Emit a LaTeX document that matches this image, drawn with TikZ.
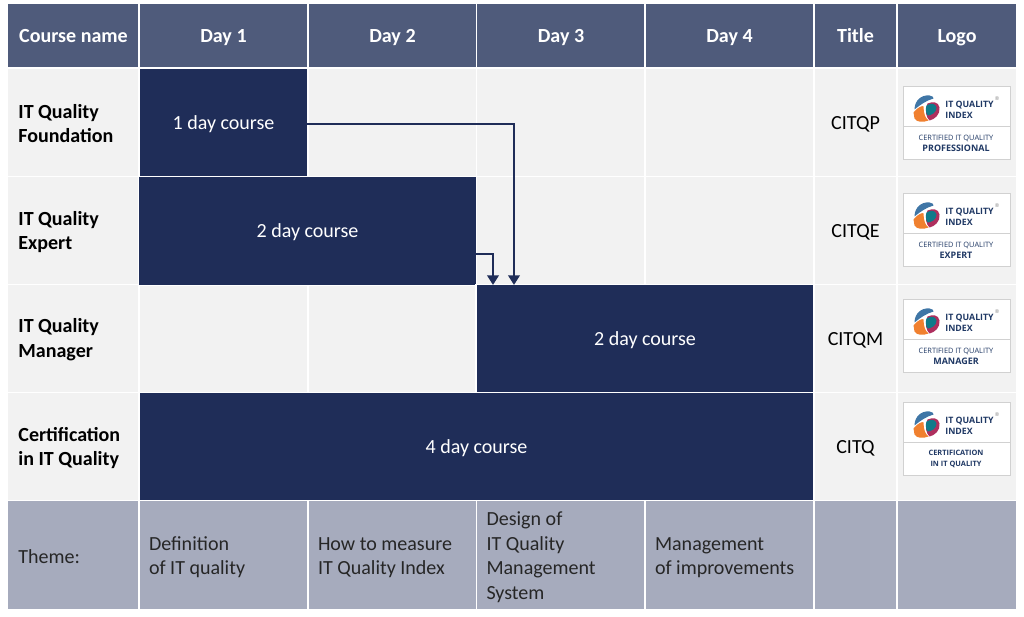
\documentclass[tikz,border=0pt]{standalone}
\usepackage{fontspec}
\setmainfont{Carlito}
\newfontfamily\logofont{Open Sans}
\usetikzlibrary{arrows.meta,positioning,calc}
\definecolor{headblue}{HTML}{4F5B7B}
\definecolor{paleg}{HTML}{F2F2F2}
\definecolor{navy}{HTML}{1F2D58}
\definecolor{themeg}{HTML}{A6ABBD}
\definecolor{logoink}{HTML}{1F3864}
\definecolor{swirlo}{HTML}{F0802F}
\definecolor{swirlb}{HTML}{3F76A6}
\definecolor{swirlr}{HTML}{AE2F5E}
\definecolor{swirlt}{HTML}{0F7A8A}
\tikzstyle{cell}=[rectangle,draw=white,line width=0.8pt,inner sep=0pt,minimum height=2.17cm,font=\fontsize{11.4}{14}\selectfont]
\tikzstyle{oneline}=[text height=9.4pt,text depth=1.6pt]
\tikzstyle{head}=[cell,text height=10pt,text depth=1.6pt,fill=headblue,text=white,minimum height=1.3cm,font=\fontsize{11.4}{14}\selectfont\bfseries]
\tikzstyle{empty}=[cell,fill=paleg]
\tikzstyle{titlecell}=[empty,oneline,minimum width=1.66cm]
\tikzstyle{course}=[cell,oneline,fill=navy,text=white]
\tikzstyle{rowname}=[cell,fill=paleg,align=flush left,text width=2.204cm,inner xsep=0.218cm,font=\fontsize{11.4}{14}\selectfont\bfseries,execute at begin node={\rule{0pt}{9pt}}]
\tikzstyle{theme}=[cell,fill=themeg,align=flush left,text width=2.98cm,inner xsep=0.2cm,text=black!85,execute at begin node={\rule{0pt}{10.3pt}}]
\tikzstyle{flow}=[draw=navy,line width=1.6pt,-{Triangle[width=6.5pt,length=5.5pt]}]
\tikzset{
pics/qualitylogo/.style n args={3}{code={
\node[rectangle,draw=black!18,fill=white,line width=0.5pt,minimum width=2.14cm,minimum height=0.8cm,inner sep=0pt] (-top) at (0.5,-19.5) {};
\node[rectangle,draw=black!18,fill=white,line width=0.5pt,minimum width=2.14cm,minimum height=0.66cm,inner sep=0pt] (-bot) at (0.5,16.5) {};
% swirl
\begin{scope}[shift={(-29.5,-17.5)}]
\fill[swirlo] (-13,4) .. controls (-8,-2) and (-4,-3) .. (-3,-2) .. controls (-3,5) and (-1,10) .. (2,12) .. controls (-3,14) and (-10,14) .. (-12,10) -- cycle;
\fill[swirlb] (-12,1) .. controls (-12,-8) and (-5,-14) .. (3,-13) .. controls (6,-13) and (7,-11) .. (7,-10) .. controls (0,-8) and (-6,-4) .. (-12,1) -- cycle;
\fill[swirlr] (1,-5) .. controls (6,-7) and (12,-7) .. (13,-1) .. controls (14,6) and (8,11) .. (3,12) .. controls (0,9) and (-2,4) .. (1,-5) -- cycle;
\fill[swirlt] (0,-3) .. controls (5,-6) and (9,-5) .. (10,-1) .. controls (10,4) and (5,7) .. (1,7) .. controls (-1,4) and (-1,0) .. (0,-3) -- cycle;
\end{scope}
\node[font=\logofont\fontsize{5}{6.2}\selectfont\bfseries,text=logoink,align=flush left,anchor=west,inner sep=0pt] (-name) at (-11,-16.5) {IT QUALITY\\INDEX};
\node[font=\logofont\fontsize{3}{3}\selectfont,text=black!45,inner sep=0pt] (-reg) at (41,-27) {\textregistered};
\node[text=logoink,align=center,inner sep=0pt,font=\logofont\fontsize{4.2}{6.2}\selectfont] (-lab) at (0,17) {#1\\{\fontsize{#3}{6.2}\selectfont\textbf{#2}}};
}}}
\begin{document}
\begin{tikzpicture}[x=0.02cm,y=-0.02cm]
\useasboundingbox (0,0) rectangle (1024,617);
%header row
\node[head,minimum width=2.64cm] (hname) at (73.5,35.5) {Course name};
\node[head,minimum width=3.38cm] (hday1) at (223.5,35.5) {Day 1};
\node[head,minimum width=3.38cm] (hday2) at (392.5,35.5) {Day 2};
\node[head,minimum width=3.38cm] (hday3) at (561,35.5) {Day 3};
\node[head,minimum width=3.38cm] (hday4) at (729.5,35.5) {Day 4};
\node[head,minimum width=1.66cm] (htitle) at (855.5,35.5) {Title};
\node[head,minimum width=2.4cm] (hlogo) at (957,35.5) {Logo};
%row names
\node[rowname] (rfound) at (73.5,122.5) {IT Quality\\Foundation};
\node[rowname] (rexpert) at (73.5,231) {IT Quality\\Expert};
\node[rowname] (rmanager) at (73.5,339) {IT Quality\\Manager};
\node[rowname] (rcert) at (73.5,447) {Certification\\in IT Quality};
%empty cells
\node[empty,minimum width=3.38cm] (e12) at (392.5,122.5) {};
\node[empty,minimum width=3.38cm] (e13) at (561,122.5) {};
\node[empty,minimum width=3.38cm] (e14) at (729.5,122.5) {};
\node[empty,minimum width=3.38cm] (e23) at (561,231) {};
\node[empty,minimum width=3.38cm] (e24) at (729.5,231) {};
\node[empty,minimum width=3.38cm] (e31) at (223.5,339) {};
\node[empty,minimum width=3.38cm] (e32) at (392.5,339) {};
%course bars
\node[course,minimum width=3.38cm] (found) at (223.5,122.5) {1 day course};
\node[course,minimum width=6.76cm] (expert) at (307.5,231) {2 day course};
\node[course,minimum width=6.76cm] (manager) at (645,339) {2 day course};
\node[course,minimum width=13.5cm] (cert) at (476.5,447) {4 day course};
%titles
\node[titlecell] (t1) at (855.5,122.5) {CITQP};
\node[titlecell] (t2) at (855.5,231) {CITQE};
\node[titlecell] (t3) at (855.5,339) {CITQM};
\node[titlecell] (t4) at (855.5,447) {CITQ};
%logo cells
\node[empty,minimum width=2.4cm] (l1) at (957,122.5) {};
\node[empty,minimum width=2.4cm] (l2) at (957,231) {};
\node[empty,minimum width=2.4cm] (l3) at (957,339) {};
\node[empty,minimum width=2.4cm] (l4) at (957,447) {};
\pic (lg1) at (956,126) {qualitylogo={CERTIFIED IT QUALITY}{PROFESSIONAL}{5.1}};
\pic (lg2) at (956,233) {qualitylogo={CERTIFIED IT QUALITY}{EXPERT}{5.1}};
\pic (lg3) at (956,339) {qualitylogo={CERTIFIED IT QUALITY}{MANAGER}{5.1}};
\pic (lg4) at (956,442) {qualitylogo={\textbf{CERTIFICATION}}{IN IT QUALITY}{4.2}};
%theme row
\node[theme,text width=2.204cm,inner xsep=0.218cm] (tname) at (73.5,555) {Theme:};
\node[theme] (td1) at (223.5,555) {Definition\\of IT quality};
\node[theme] (td2) at (392.5,555) {How to measure\\IT Quality Index};
\node[theme] (td3) at (561,555) {Design of\\IT Quality\\Management\\System};
\node[theme] (td4) at (729.5,555) {Management\\of improvements};
\node[theme,text width=1.26cm] (ttitle) at (855.5,555) {};
\node[theme,text width=2cm] (tlogo) at (957,555) {};
%arrows
\coordinate (out1) at (306,124);
\coordinate (into1) at (514,285);
\coordinate (out2) at (475,254);
\coordinate (into2) at (493,285);
\draw[flow] (out1) -| (into1);
\draw[flow] (out2) -| (into2);
\end{tikzpicture}
\end{document}
